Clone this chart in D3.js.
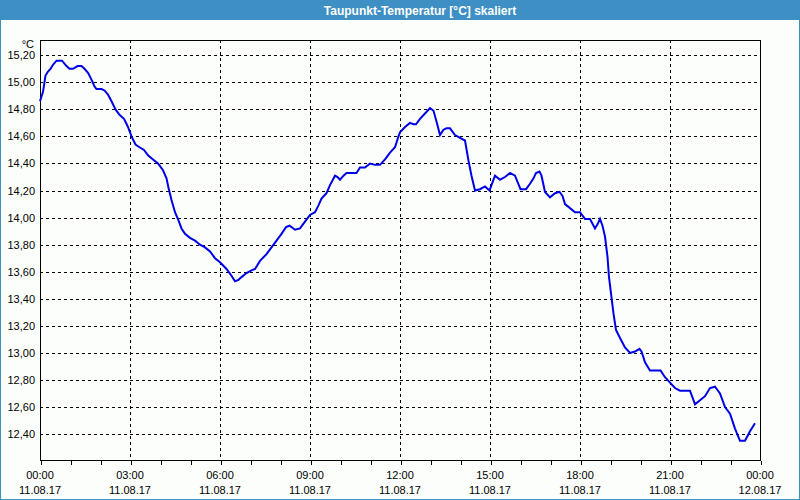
<!DOCTYPE html>
<html>
<head>
<meta charset="utf-8">
<script src="https://cdn.jsdelivr.net/npm/d3@7"></script>
<style>
  body { margin: 0; background: #fcfefc; }
  svg { display: block; }
</style>
</head>
<body>
<svg id="chart"></svg>
<script>
// Dew point readings, 11.08.17 00:00 -> 12.08.17 00:00 (minutes since midnight)
const minutes = [0, 6, 11, 16, 21, 26, 33, 39, 44, 53, 59, 66, 75, 83, 89, 96, 103, 109, 113, 123,
  129, 136, 143, 151, 159, 168, 176, 183, 191, 199, 208, 216, 226, 236, 246, 253, 257, 263, 270, 277,
  283, 290, 300, 310, 320, 330, 340, 350, 360, 373, 383, 390, 397, 403, 413, 423, 430, 440, 453, 463,
  473, 483, 492, 499, 503, 510, 520, 530, 540, 550, 557, 563, 573, 580, 590, 595, 600, 607, 613, 633,
  640, 650, 660, 670, 680, 690, 700, 710, 717, 720, 730, 740, 747, 752, 760, 770, 780, 787, 793, 800,
  807, 813, 820, 830, 840, 850, 857, 863, 870, 880, 890, 899, 910, 920, 930, 940, 950, 961, 972, 980,
  987, 992, 999, 1003, 1010, 1020, 1030, 1039, 1045, 1050, 1060, 1070, 1080, 1090, 1100, 1110, 1115, 1120, 1125, 1130,
  1135, 1138, 1142, 1147, 1152, 1160, 1170, 1180, 1190, 1199, 1203, 1210, 1220, 1241, 1250, 1260, 1270, 1280, 1300, 1310,
  1320, 1330, 1340, 1350, 1360, 1370, 1380, 1390, 1400, 1410, 1420, 1430];
const values = [14.86, 14.93, 15.05, 15.08, 15.10, 15.13, 15.16, 15.16, 15.16, 15.12, 15.10, 15.10, 15.12, 15.12, 15.10, 15.07, 15.02, 14.97, 14.95, 14.95,
  14.94, 14.91, 14.86, 14.80, 14.76, 14.73, 14.67, 14.60, 14.54, 14.52, 14.50, 14.46, 14.43, 14.40, 14.35, 14.29, 14.22, 14.13, 14.04, 13.98,
  13.92, 13.88, 13.85, 13.83, 13.80, 13.78, 13.75, 13.70, 13.67, 13.62, 13.57, 13.53, 13.54, 13.56, 13.59, 13.61, 13.62, 13.68, 13.73, 13.78,
  13.83, 13.88, 13.93, 13.94, 13.93, 13.91, 13.92, 13.97, 14.02, 14.04, 14.09, 14.14, 14.18, 14.24, 14.31, 14.30, 14.28, 14.31, 14.33, 14.33,
  14.37, 14.37, 14.40, 14.39, 14.39, 14.43, 14.48, 14.52, 14.60, 14.63, 14.67, 14.70, 14.69, 14.69, 14.73, 14.77, 14.81, 14.79, 14.71, 14.61,
  14.65, 14.66, 14.66, 14.61, 14.59, 14.57, 14.42, 14.31, 14.20, 14.21, 14.23, 14.20, 14.31, 14.28, 14.30, 14.33, 14.31, 14.21, 14.21, 14.25,
  14.29, 14.33, 14.34, 14.31, 14.19, 14.15, 14.18, 14.19, 14.16, 14.10, 14.07, 14.04, 14.04, 13.99, 13.99, 13.92, 13.95, 13.99, 13.94, 13.86,
  13.71, 13.56, 13.44, 13.29, 13.17, 13.11, 13.04, 13.00, 13.01, 13.03, 13.01, 12.93, 12.87, 12.87, 12.82, 12.78, 12.74, 12.72, 12.72, 12.62,
  12.65, 12.68, 12.74, 12.75, 12.70, 12.60, 12.55, 12.44, 12.35, 12.35, 12.42, 12.48];

const yTicks = [12.4, 12.6, 12.8, 13.0, 13.2, 13.4, 13.6, 13.8, 14.0, 14.2, 14.4, 14.6, 14.8, 15.0, 15.2];
const xTickTimes = ["00:00", "03:00", "06:00", "09:00", "12:00", "15:00", "18:00", "21:00", "00:00"];
const xTickDates = ["11.08.17", "11.08.17", "11.08.17", "11.08.17", "11.08.17", "11.08.17", "11.08.17", "11.08.17", "12.08.17"];
const title = "Taupunkt-Temperatur [°C] skaliert";
const unit = "°C";

const W = 800, H = 500;
const margin = { top: 40, right: 40, bottom: 40, left: 40 };
const width = W - margin.left - margin.right,
      height = H - margin.top - margin.bottom;
const barColor = "#3d8fc4";
const font = "'Liberation Sans', Arial, sans-serif";

const svg = d3.select("#chart").attr("width", W).attr("height", H);

// window frame + title bar
svg.append("rect").attr("x", 0.5).attr("y", 0.5).attr("width", W - 1).attr("height", H - 1)
  .attr("fill", "#fcfefc").attr("stroke", barColor);
svg.append("rect").attr("x", 0).attr("y", 0).attr("width", W).attr("height", 20).attr("fill", barColor);
svg.append("text").attr("x", 420).attr("y", 15).attr("text-anchor", "middle")
  .attr("fill", "#fff").attr("font-family", font).attr("font-size", 12).attr("font-weight", "bold")
  .text(title);

const x = d3.scaleLinear().domain([0, 1440]).range([0, width]);
const y = d3.scaleLinear().domain([12.208, 15.313]).range([height, 0]);

const chart = svg.append("g").attr("transform", `translate(${margin.left}, ${margin.top})`);

// grid
chart.append("g")
  .selectAll("line.h")
  .data(yTicks)
  .join("line")
  .attr("x1", 0).attr("x2", width)
  .attr("y1", d => Math.round(y(d)) + 0.5).attr("y2", d => Math.round(y(d)) + 0.5)
  .attr("stroke", "#000").attr("stroke-dasharray", "3,3").attr("shape-rendering", "crispEdges");

chart.append("g")
  .selectAll("line.v")
  .data(d3.range(180, 1440, 180))
  .join("line")
  .attr("x1", d => Math.round(x(d)) + 0.5).attr("x2", d => Math.round(x(d)) + 0.5)
  .attr("y1", 0).attr("y2", height)
  .attr("stroke", "#000").attr("stroke-dasharray", "3,3").attr("shape-rendering", "crispEdges");

// frame
chart.append("rect").attr("x", 0.5).attr("y", 0.5).attr("width", width).attr("height", height)
  .attr("fill", "none").attr("stroke", "#000").attr("shape-rendering", "crispEdges");

// x axis with hourly ticks
const xAxis = chart.append("g")
  .attr("transform", `translate(0.5, ${height + 0.5})`)
  .call(d3.axisBottom(x).tickValues(d3.range(0, 1441, 60)).tickSize(4).tickFormat(""));
xAxis.select(".domain").remove();
xAxis.selectAll("line").attr("stroke", "#000").attr("shape-rendering", "crispEdges");

const xl = chart.append("g").attr("font-family", font).attr("font-size", 11).attr("fill", "#000");
xl.selectAll("text.t")
  .data(xTickTimes)
  .join("text")
  .attr("x", (d, i) => x(i * 180)).attr("y", height + 19)
  .attr("text-anchor", "middle").text(d => d);
xl.selectAll("text.d")
  .data(xTickDates)
  .join("text")
  .attr("x", (d, i) => x(i * 180)).attr("y", height + 34)
  .attr("text-anchor", "middle").text(d => d);

// y labels
const fmt = d => d.toFixed(2).replace(".", ",");
chart.append("g").attr("font-family", font).attr("font-size", 11)
  .selectAll("text")
  .data(yTicks)
  .join("text")
  .attr("x", -5).attr("y", d => y(d) + 4)
  .attr("text-anchor", "end").text(fmt);
chart.append("text").attr("x", -6).attr("y", 8).attr("text-anchor", "end")
  .attr("font-family", font).attr("font-size", 11).text(unit);

// series
const data = minutes.map((m, i) => ({ m, v: values[i] }));
chart.append("path")
  .datum(data)
  .attr("fill", "none")
  .attr("stroke", "#0000e6")
  .attr("stroke-width", 2)
  .attr("d", d3.line().x(d => x(d.m)).y(d => y(d.v)));
</script>
</body>
</html>
